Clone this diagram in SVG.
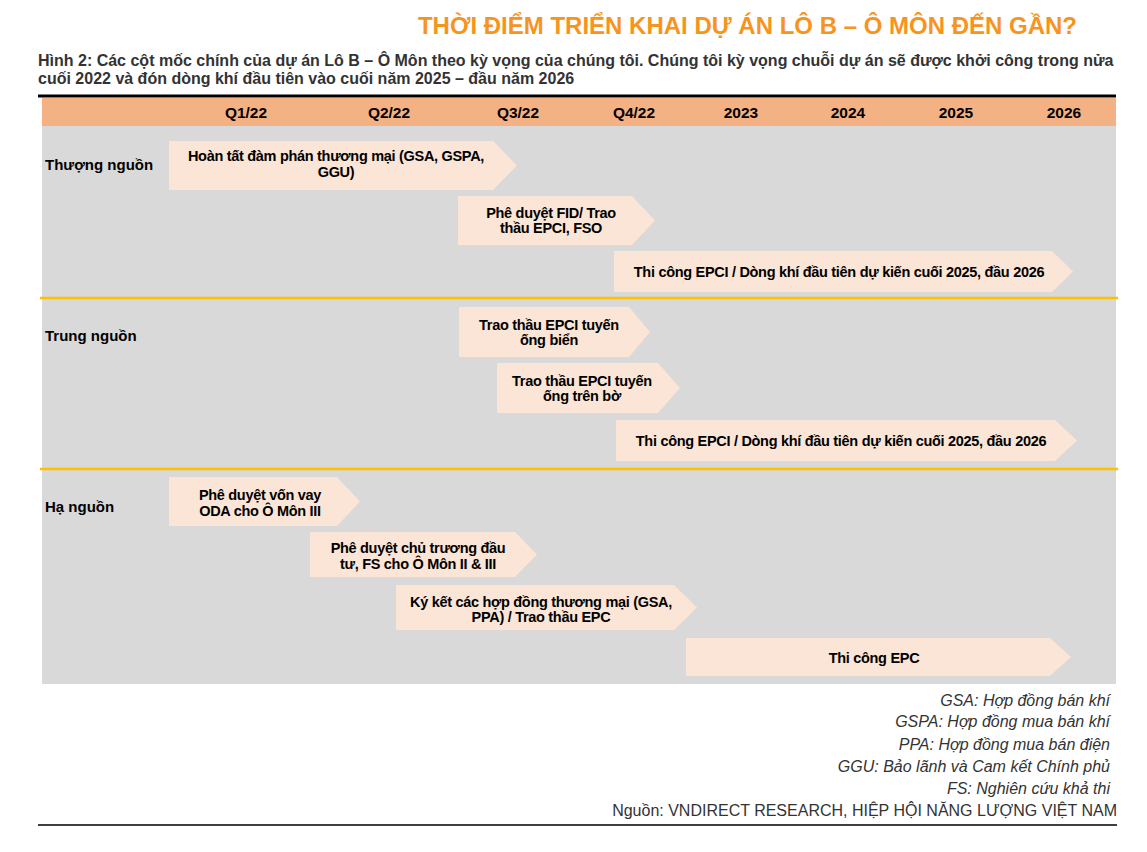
<svg xmlns="http://www.w3.org/2000/svg" width="1147" height="852" viewBox="0 0 1147 852">
<style>
.title{font-family:"Liberation Sans",Arial,sans-serif;font-weight:bold;font-size:24px;fill:#F7941D}
.sub{font-family:"Liberation Sans",Arial,sans-serif;font-weight:bold;font-size:16px;fill:#333333}
.hdr{font-family:"Liberation Sans",Arial,sans-serif;font-weight:bold;font-size:15.5px;fill:#000;text-anchor:middle}
.row{font-family:"Liberation Sans",Arial,sans-serif;font-weight:bold;font-size:15px;fill:#000}
.arr{fill:#FBE5D6}
.at{font-family:"Liberation Sans",Arial,sans-serif;font-weight:bold;font-size:14.5px;fill:#000;text-anchor:middle;letter-spacing:-0.3px}
.leg{font-family:"Liberation Sans",Arial,sans-serif;font-style:italic;font-size:16px;fill:#333;text-anchor:end}
.src{font-family:"Liberation Sans",Arial,sans-serif;font-size:16px;fill:#333;text-anchor:end}
.sep{stroke:#FFC000;stroke-width:2.5}
</style>
<rect width="1147" height="852" fill="#fff"/>
<text class="title" x="1077" y="34" text-anchor="end">THỜI ĐIỂM TRIỂN KHAI DỰ ÁN LÔ B – Ô MÔN ĐẾN GẦN?</text>
<text class="sub" x="38" y="66">Hình 2: Các cột mốc chính của dự án Lô B – Ô Môn theo kỳ vọng của chúng tôi. Chúng tôi kỳ vọng chuỗi dự án sẽ được khởi công trong nửa</text>
<text class="sub" x="38" y="84">cuối 2022 và đón dòng khí đầu tiên vào cuối năm 2025 – đầu năm 2026</text>
<line x1="38" y1="96" x2="1116" y2="96" stroke="#000" stroke-width="3"/>
<g id="header">
<rect x="42" y="98" width="1074" height="28" fill="#F4B183"/>
<text class="hdr" x="246" y="118">Q1/22</text>
<text class="hdr" x="389" y="118">Q2/22</text>
<text class="hdr" x="518" y="118">Q3/22</text>
<text class="hdr" x="634" y="118">Q4/22</text>
<text class="hdr" x="741" y="118">2023</text>
<text class="hdr" x="848" y="118">2024</text>
<text class="hdr" x="956" y="118">2025</text>
<text class="hdr" x="1064" y="118">2026</text>
</g>
<rect x="42" y="126" width="1074" height="558" fill="#D9D9D9"/>
<g id="separators">
<line class="sep" x1="40" y1="298" x2="1118" y2="298"/>
<line class="sep" x1="40" y1="469" x2="1118" y2="469"/>
</g>
<g id="rows">
<text class="row" x="45" y="170">Thượng nguồn</text>
<text class="row" x="45" y="341">Trung nguồn</text>
<text class="row" x="45" y="512">Hạ nguồn</text>
</g>
<g id="a1"><polygon class="arr" points="169,141 493,141 517,165.5 493,190 169,190"/>
<text class="at" x="336" y="161">Hoàn tất đàm phán thương mại (GSA, GSPA,</text>
<text class="at" x="336" y="177">GGU)</text></g>
<g id="a2"><polygon class="arr" points="458,196 632,196 655,220.5 632,245 458,245"/>
<text class="at" x="551" y="218">Phê duyệt FID/ Trao</text>
<text class="at" x="551" y="233">thầu EPCI, FSO</text></g>
<g id="a3"><polygon class="arr" points="614,251 1052,251 1073,271.5 1052,292 614,292"/>
<text class="at" x="839" y="277">Thi công EPCI / Dòng khí đầu tiên dự kiến cuối 2025, đầu 2026</text></g>
<g id="a4"><polygon class="arr" points="459,307 629,307 650,332 629,357 459,357"/>
<text class="at" x="549" y="330">Trao thầu EPCI tuyến</text>
<text class="at" x="549" y="345">ống biển</text></g>
<g id="a5"><polygon class="arr" points="497,363 658,363 680,388 658,413 497,413"/>
<text class="at" x="582" y="386">Trao thầu EPCI tuyến</text>
<text class="at" x="582" y="401">ống trên bờ</text></g>
<g id="a6"><polygon class="arr" points="616,420 1055,420 1077,440.5 1055,461 616,461"/>
<text class="at" x="841" y="446">Thi công EPCI / Dòng khí đầu tiên dự kiến cuối 2025, đầu 2026</text></g>
<g id="a7"><polygon class="arr" points="169,477 337,477 360,501.5 337,526 169,526"/>
<text class="at" x="260" y="500">Phê duyệt vốn vay</text>
<text class="at" x="260" y="516">ODA  cho Ô Môn III</text></g>
<g id="a8"><polygon class="arr" points="310,532 515,532 537,554.5 515,577 310,577"/>
<text class="at" x="418" y="553">Phê duyệt chủ trương đầu</text>
<text class="at" x="418" y="569">tư, FS cho Ô Môn II &amp; III</text></g>
<g id="a9"><polygon class="arr" points="396,585 674,585 697,607.5 674,630 396,630"/>
<text class="at" x="541" y="607">Ký kết các hợp đồng thương mại (GSA,</text>
<text class="at" x="541" y="622">PPA) / Trao thầu EPC</text></g>
<g id="a10"><polygon class="arr" points="686,638 1050,638 1071,657 1050,676 686,676"/>
<text class="at" x="874" y="663">Thi công EPC</text></g>
<g id="legend">
<text class="leg" x="1110" y="706">GSA: Hợp đồng bán khí</text>
<text class="leg" x="1110" y="727">GSPA: Hợp đồng mua bán khí</text>
<text class="leg" x="1110" y="750">PPA: Hợp đồng mua bán điện</text>
<text class="leg" x="1110" y="772">GGU: Bảo lãnh và Cam kết Chính phủ</text>
<text class="leg" x="1110" y="794">FS: Nghiên cứu khả thi</text>
<text class="src" x="1117" y="816">Nguồn: VNDIRECT RESEARCH, HIỆP HỘI NĂNG LƯỢNG VIỆT NAM</text>
</g>
<line x1="38" y1="825" x2="1117" y2="825" stroke="#000" stroke-width="1.5"/>
</svg>
